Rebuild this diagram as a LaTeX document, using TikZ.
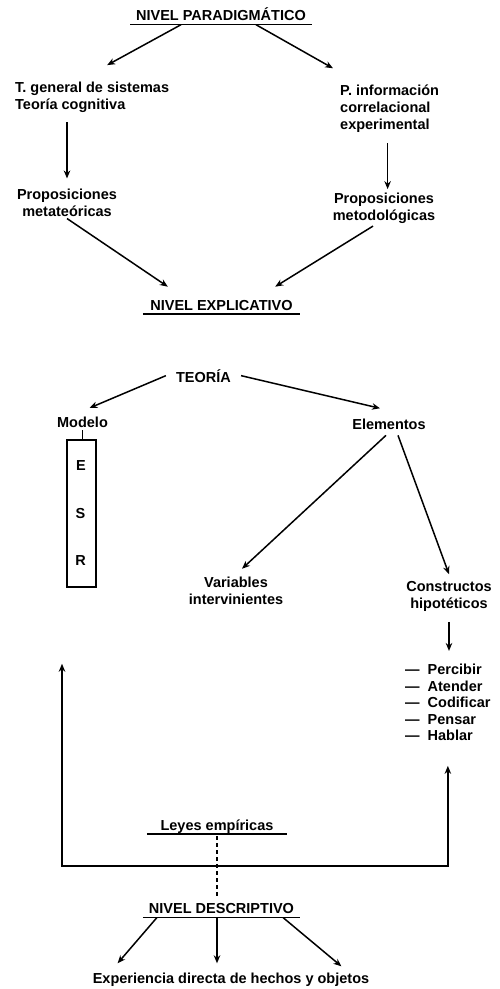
\documentclass[tikz,border=0pt]{standalone}
\usepackage{fontspec}
\setmainfont{Liberation Sans}
\usepackage{tikz}
\usetikzlibrary{arrows, arrows.meta, positioning}
\tikzstyle{txt} = [font=\bfseries\fontsize{14.5}{17}\selectfont, inner sep=2pt, align=center]
\tikzstyle{heading} = [txt, anchor=base, inner ysep=4pt, text depth=0pt]
\tikzstyle{word} = [txt, anchor=base]
\tikzstyle{letterbox} = [rectangle, draw=black, line width=1.5pt, minimum width=29pt, minimum height=147pt]
\tikzstyle{arrow} = [line width=1.5pt,->,>={Stealth[length=8pt,width=6.5pt]}]
\tikzstyle{link} = [line width=1.5pt]
\tikzstyle{dashline} = [line width=1.5pt, dash pattern=on 4pt off 3pt]

\begin{document}
\begin{tikzpicture}[x=1pt, y=-1pt]
\useasboundingbox (0,0) rectangle (499,989);

% Paradigmatic level
\node (para) [heading, minimum width=181pt] at (221,20.5) {NIVEL PARADIGMÁTICO};
\draw [link] (para.south west) -- (para.south east);
\node (tgs) [txt, align=left, anchor=west] at (13,97.6) {T. general de sistemas\\Teoría cognitiva};
\node (pinfo) [txt, align=left, anchor=west] at (338,108.3) {P. información\\correlacional\\experimental};
\node (pmeta) [txt] at (67,202.5) {Proposiciones\\metateóricas};
\node (pmetod) [txt] at (384,208.6) {Proposiciones\\metodológicas};

% Explicative level
\node (expl) [heading, minimum width=157pt] at (221.5,310) {NIVEL EXPLICATIVO};
\draw [link] (expl.south west) -- (expl.south east);
\node (teoria) [word] at (203.5,382) {TEORÍA};
\node (modelo) [word] at (82.5,427.7) {Modelo};
\node (elem) [word] at (389,429) {Elementos};

% Model box
\node (box) [letterbox] at (81.5,513.5) {};
\node (e) [word] at (81,470) {E};
\node (s) [word] at (80.5,518) {S};
\node (r) [word] at (80.5,565.7) {R};

\node (varint) [txt] at (236,590.8) {Variables\\intervinientes};
\node (constr) [txt] at (449,596.5) {Constructos\\hipotéticos};
\node (procs) [txt, anchor=west, font=\bfseries\fontsize{14.5}{16.5}\selectfont] at (403,704.4) {%
\begin{tabular}{@{}l@{\hspace{8pt}}l@{}}
— & Percibir\\
— & Atender\\
— & Codificar\\
— & Pensar\\
— & Hablar
\end{tabular}};

% Descriptive level
\node (leyes) [heading, minimum width=140pt] at (217,830) {Leyes empíricas};
\draw [link] (leyes.south west) -- (leyes.south east);
\node (desc) [heading, minimum width=157pt] at (221.5,913.5) {NIVEL DESCRIPTIVO};
\draw [link] (desc.south west) -- (desc.south east);
\node (exp) [word] at (231,983) {Experiencia directa de hechos y objetos};
\coordinate (lowleft) at (62,866);

% Arrows
\draw [arrow] ([xshift=-40pt]para.south) -- ([xshift=15pt,yshift=15pt]tgs.north);
\draw [arrow] ([xshift=35pt]para.south) -- ([xshift=-5pt,yshift=14pt]pinfo.north west);
\draw [arrow] ([xshift=54pt,yshift=-7pt]tgs.south west) -- ([yshift=8pt]pmeta.north);
\draw [arrow] ([xshift=-2pt,yshift=-9pt]pinfo.south) -- ([xshift=-2pt,yshift=2pt]pinfo.south |- pmetod.north);
\draw [arrow] (pmeta.south) -- ([xshift=25pt,yshift=9pt]expl.north west);
\draw [arrow] ([xshift=-11pt]pmetod.south) -- ([xshift=-25pt,yshift=9pt]expl.north east);

\draw [arrow] ([xshift=-8pt]teoria.west) -- ([xshift=7pt,yshift=7pt]modelo.north);
\draw [arrow] ([xshift=8pt]teoria.east) -- ([xshift=-9pt,yshift=8pt]elem.north);
\draw [link] (modelo.south) -- (modelo.south |- box.north);
\draw [arrow] ([xshift=-3pt,yshift=-4pt]elem.south) -- ([xshift=6pt,yshift=6pt]varint.north);
\draw [arrow] ([xshift=9pt,yshift=-4pt]elem.south) -- ([yshift=5pt]constr.north);
\draw [arrow] ([yshift=-8pt]constr.south) -- ([yshift=10pt]constr.south |- procs.north);

\draw [arrow, <->] ([xshift=-19.5pt,yshift=-76pt]box.south) -- (lowleft) -| ([yshift=-18pt]procs.south);
\draw [dashline] ([yshift=-2pt]leyes.south) -- (leyes.south |- desc.north);

\draw [arrow] ([xshift=14pt]desc.south west) -- ([xshift=27pt,yshift=7pt]exp.north west);
\draw [arrow] ([xshift=-4.5pt]desc.south) -- ([xshift=-14pt,yshift=7pt]exp.north);
\draw [arrow] ([xshift=-17pt]desc.south east) -- ([xshift=-30pt,yshift=4pt]exp.north east);

\end{tikzpicture}
\end{document}
